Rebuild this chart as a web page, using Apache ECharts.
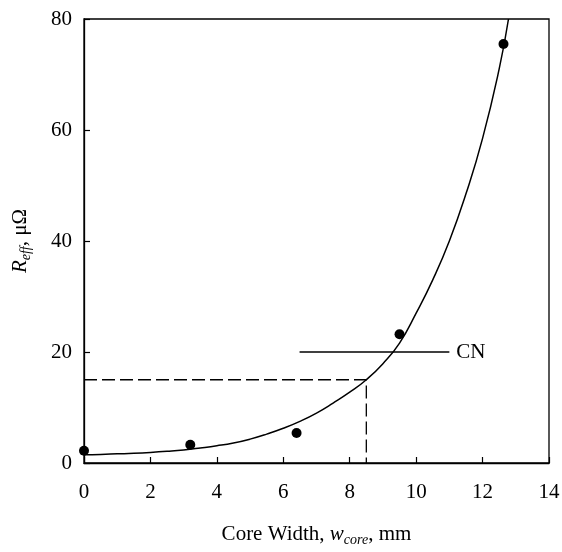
<!DOCTYPE html>
<html><head><meta charset="utf-8">
<script src="https://cdn.jsdelivr.net/npm/echarts@6/dist/echarts.min.js"></script>
<style>html,body{margin:0;padding:0;background:#fff}#c{width:562px;height:552px}</style>
</head><body><div id="c"></div>
<script>
// Measured points
const pointX = [0, 3.2, 6.4, 9.5, 12.63];
const pointY = [2.2, 3.3, 5.4, 23.2, 75.5];
// Fitted curve
const curveX = [0, 0.5, 1, 1.5, 2, 2.5, 3, 3.5, 4, 4.5, 5, 5.5, 6, 6.5, 7, 7.5, 8, 8.5, 9, 9.5, 10, 10.5, 11, 11.5, 12, 12.5, 12.78];
const curveY = [1.5, 1.55, 1.65, 1.75, 1.9, 2.1, 2.35, 2.7, 3.1, 3.6, 4.3, 5.2, 6.25, 7.5, 9.0, 10.8, 12.75, 15.0, 17.9, 21.6, 27, 33, 40, 48.5, 58.5, 71, 80];
// Dashed guide: design point
const guideX = [0, 8.5, 8.5];
const guideY = [15, 15, 0];
// CN reference line
const cnX = [6.49, 11.0];
const cnY = [20, 20];
const cnLabel = 'CN';
const xTicks = [0, 2, 4, 6, 8, 10, 12, 14];
const yTicks = [0, 20, 40, 60, 80];

const zip = (a, b) => a.map((v, i) => [v, b[i]]);
const font = 'Liberation Serif';
const chart = echarts.init(document.getElementById('c'));
chart.setOption({
  animation: false,
  backgroundColor: '#fff',
  grid: {left: 84, right: 13, top: 19, bottom: 89, containLabel: false, outerBoundsMode: 'none',
         show: true, borderColor: '#000', borderWidth: 1.3, backgroundColor: 'transparent'},
  xAxis: {
    type: 'value', min: xTicks[0], max: xTicks[xTicks.length - 1], interval: 2,
    axisLine: {lineStyle: {color: '#000', width: 1.3}},
    axisTick: {inside: true, length: 6, lineStyle: {color: '#000', width: 1.2}},
    axisLabel: {color: '#000', fontFamily: font, fontSize: 21, margin: 19},
    splitLine: {show: false},
    name: '{n|Core Width, }{i|w}{s|core}{n|, mm}',
    nameLocation: 'middle', nameGap: 58,
    nameTextStyle: {
      rich: {
        n: {fontFamily: font, fontSize: 21, color: '#000', lineHeight: 26},
        i: {fontFamily: font, fontSize: 21, fontStyle: 'italic', color: '#000', lineHeight: 26},
        s: {fontFamily: font, fontSize: 14, fontStyle: 'italic', color: '#000', lineHeight: 14, padding: [13, 0, 0, 0]}
      }
    }
  },
  yAxis: {
    type: 'value', min: yTicks[0], max: yTicks[yTicks.length - 1], interval: 20,
    axisLine: {lineStyle: {color: '#000', width: 1.3}},
    axisTick: {inside: true, length: 6, lineStyle: {color: '#000', width: 1.2}},
    axisLabel: {color: '#000', fontFamily: font, fontSize: 21, margin: 12},
    splitLine: {show: false},
    name: '{i|R}{s|eff}{n|, μΩ}',
    nameLocation: 'middle', nameGap: 51, nameRotate: 90,
    nameTextStyle: {
      rich: {
        n: {fontFamily: font, fontSize: 21, color: '#000', lineHeight: 26},
        i: {fontFamily: font, fontSize: 21, fontStyle: 'italic', color: '#000', lineHeight: 26},
        s: {fontFamily: font, fontSize: 14, fontStyle: 'italic', color: '#000', lineHeight: 14, padding: [13, 0, 0, 0]}
      }
    }
  },
  series: [
    {type: 'line', data: zip(curveX, curveY), smooth: 0.5, showSymbol: false, clip: true,
     lineStyle: {color: '#000', width: 1.5}, z: 3},
    {type: 'line', data: zip(guideX, guideY), showSymbol: false,
     lineStyle: {color: '#000', width: 1.3, type: [13, 5]}, z: 2},
    {type: 'line', data: zip(cnX, cnY), showSymbol: false,
     lineStyle: {color: '#000', width: 1.3}, z: 2,
     endLabel: {show: true, formatter: cnLabel, color: '#000', fontFamily: font, fontSize: 21, distance: 7}},
    {type: 'scatter', data: zip(pointX, pointY), symbol: 'circle', symbolSize: 10,
     itemStyle: {color: '#000', opacity: 1}, z: 4}
  ]
});
</script></body></html>
